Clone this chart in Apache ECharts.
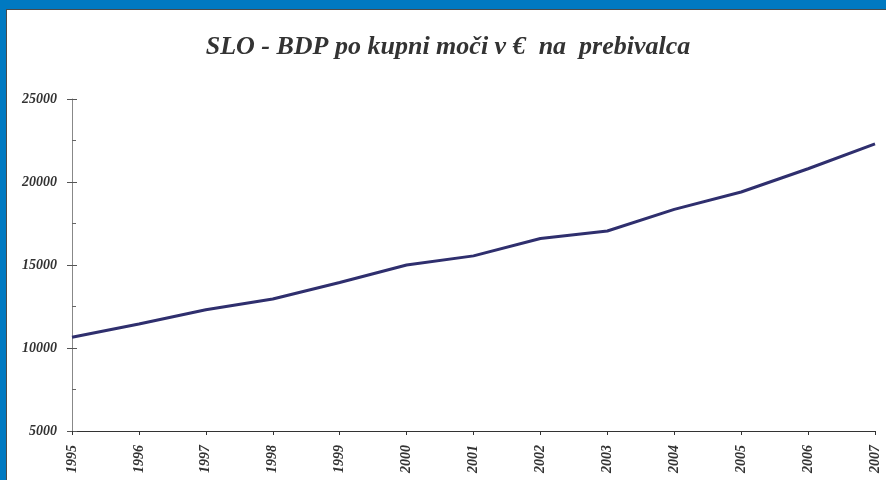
<!DOCTYPE html>
<html>
<head>
<meta charset="utf-8">
<script src="https://cdn.jsdelivr.net/npm/echarts@6/dist/echarts.min.js"></script>
<style>
html,body{
	margin:0;
	padding:0;
	width:886px;
	height:480px;
	overflow:hidden;
	background:#0079c1;
}
#frame{
	position:absolute;
	left:6px;
	top:9px;
	width:900px;
	height:500px;
	background:#fff;
	border:1px solid #4a4a4a;
}
#main{
	position:absolute;
	left:0;
	top:0;
	width:886px;
	height:480px;
}
</style>
</head>
<body>
<div id="frame"></div>
<div id="main"></div>
<script type="text/javascript">
	var years = ['1995','1996','1997','1998','1999','2000','2001','2002','2003','2004','2005','2006','2007'];
	var bdp = [10650, 11450, 12300, 12950, 13950, 15000, 15550, 16600, 17050, 18350, 19400, 20800, 22300];
	var yTicks = [5000, 10000, 15000, 20000, 25000];

	var labelFont = {
		fontFamily: '"Liberation Serif", "DejaVu Serif", serif',
		fontStyle: 'italic',
		fontWeight: 'bold',
		fontSize: 14,
		color: '#333'
	};

	var chart = echarts.init(document.getElementById('main'));
	var option = {
		backgroundColor: 'transparent',
		animation: false,
		title: {
			text: 'SLO - BDP po kupni moči v €  na  prebivalca',
			left: 443,
			top: 29,
			textAlign: 'center',
			textStyle: {
				fontFamily: '"Liberation Serif", "DejaVu Serif", serif',
				fontStyle: 'italic',
				fontWeight: 'bold',
				fontSize: 26,
				color: '#333'
			}
		},
		grid: {
			left: 72,
			right: 11,
			top: 99,
			bottom: 49,
			containLabel: false
		},
		xAxis: {
			type: 'category',
			data: years,
			boundaryGap: false,
			axisLine: {lineStyle: {color: '#333', width: 1}},
			axisTick: {alignWithLabel: true, length: 4, lineStyle: {color: '#333'}},
			axisLabel: Object.assign({rotate: 90, margin: 14, interval: 0}, labelFont),
			splitLine: {show: false}
		},
		yAxis: [{
			type: 'value',
			min: yTicks[0],
			max: yTicks[yTicks.length - 1],
			interval: 5000,
			axisLine: {show: true, lineStyle: {color: '#888', width: 1}},
			axisTick: {show: true, length: 5, lineStyle: {color: '#555'}},
			minorTick: {show: true, splitNumber: 2, length: -4, lineStyle: {color: '#666'}},
			axisLabel: Object.assign({margin: 15, formatter: function (v) { return String(v); }}, labelFont),
			splitLine: {show: false}
		}, {
			type: 'value',
			position: 'left',
			min: yTicks[0],
			max: yTicks[yTicks.length - 1],
			interval: 5000,
			axisLine: {show: false},
			axisTick: {show: true, inside: true, length: 5, lineStyle: {color: '#555'}},
			axisLabel: {show: false},
			splitLine: {show: false}
		}],
		series: [{
			name: 'BDP',
			type: 'line',
			data: bdp,
			symbol: 'none',
			lineStyle: {color: '#2f2f6e', width: 3}
		}]
	};
	chart.setOption(option);
</script>
</body>
</html>
